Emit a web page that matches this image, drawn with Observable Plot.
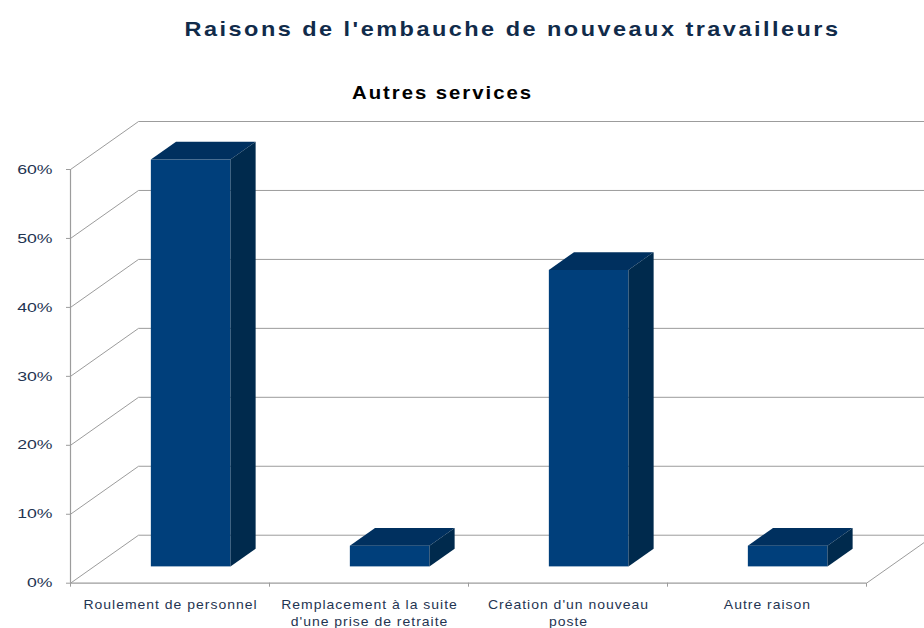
<!DOCTYPE html>
<html>
<head>
<meta charset="utf-8">
<script src="https://cdn.jsdelivr.net/npm/d3@7"></script>
<script src="https://cdn.jsdelivr.net/npm/@observablehq/plot@0.6"></script>
<style>
  body { margin: 0; background: #fff; }
  #chart svg { overflow: hidden; }
</style>
</head>
<body>
<div id="chart"></div>
<script>
// ---- data ----
const title = "Raisons de l'embauche de nouveaux travailleurs";
const subtitle = "Autres services";
const categories = [
  "Roulement de personnel",
  "Remplacement à la suite\nd'une prise de retraite",
  "Création d'un nouveau\nposte",
  "Autre raison"
];
const values = [0.59, 0.03, 0.43, 0.03];
const yTicks = [0, 0.1, 0.2, 0.3, 0.4, 0.5, 0.6];
const boundaries = d3.range(categories.length + 1);

// ---- pseudo-3D projection (depth expressed in data units) ----
const DEPTH_X = 0.342;   // category units shifted at full depth
const DEPTH_Y = 0.0696;  // value units shifted at full depth
const BAR_L = 0.29, BAR_R = 0.69;   // bar footprint within category
const D0 = 0.34, D1 = 0.71;         // bar front / back depth
const nCat = categories.length;

const front = values.map((v, i) => ({
  x1: i + BAR_L + D0 * DEPTH_X, x2: i + BAR_R + D0 * DEPTH_X,
  y1: D0 * DEPTH_Y, y2: v + D0 * DEPTH_Y
}));
const topFace = values.flatMap((v, i) => [D0, D1].map(d => ({
  bar: i, y: v + d * DEPTH_Y,
  x1: i + BAR_L + d * DEPTH_X, x2: i + BAR_R + d * DEPTH_X
})));
const sideFace = values.flatMap((v, i) => [D0, D1].map(d => ({
  bar: i, x: i + BAR_R + d * DEPTH_X,
  y1: d * DEPTH_Y, y2: v + d * DEPTH_Y
})));

const gridColor = "#9c9c9c";
const textColor = "#1f3552";
const fmt = d3.format(".0%");

const chart = Plot.plot({
  width: 924,
  height: 628,
  marginTop: 169,
  marginBottom: 45.3,
  marginLeft: 70,
  marginRight: 58,
  style: { fontFamily: "'Liberation Sans', Arial, sans-serif", background: "#fff" },
  x: { domain: [0, nCat] },
  y: { domain: [0, 0.6] },
  marks: [
    // back wall gridlines
    Plot.link(yTicks, {
      x1: DEPTH_X, x2: nCat + DEPTH_X + 0.5,
      y1: d => d + DEPTH_Y, y2: d => d + DEPTH_Y,
      stroke: gridColor, strokeWidth: 1
    }),
    // side wall diagonals
    Plot.link(yTicks, {
      x1: 0, y1: d => d, x2: DEPTH_X, y2: d => d + DEPTH_Y,
      stroke: gridColor, strokeWidth: 1
    }),
    // floor right edge
    Plot.link([nCat], {
      x1: d => d, y1: 0, x2: d => d + DEPTH_X, y2: DEPTH_Y,
      stroke: gridColor, strokeWidth: 1
    }),
    // floor front edge
    Plot.ruleY([0], { x1: 0, x2: nCat, stroke: gridColor, strokeWidth: 1.2 }),
    // front vertical axis
    Plot.ruleX([0], { y1: 0, y2: 0.6, stroke: gridColor, strokeWidth: 1.2 }),
    Plot.axisY({ ticks: yTicks, tickSize: 4, tickFormat: () => "", stroke: gridColor }),
    Plot.axisX({ ticks: boundaries, tickSize: 4, tickFormat: () => "", stroke: gridColor }),
    // bars
    Plot.rect(front, { x1: "x1", x2: "x2", y1: "y1", y2: "y2", fill: "#003f7b" }),
    Plot.areaX(topFace, { y: "y", x1: "x1", x2: "x2", z: "bar", fill: "#00305f" }),
    Plot.areaY(sideFace, { x: "x", y1: "y1", y2: "y2", z: "bar", fill: "#002a4d" }),
    // y tick labels
    Plot.text(yTicks, {
      y: d => d, text: fmt, frameAnchor: "left",
      textAnchor: "end", dx: -18, fontSize: 13, fill: textColor
    }),
    // category labels
    Plot.text(categories, {
      x: (d, i) => i + 0.5, text: d => d, frameAnchor: "bottom",
      lineAnchor: "top", dy: 14.6, dx: 0.5, lineHeight: 1.3,
      fontSize: 12.5, fill: textColor
    }),
    // title & subtitle
    Plot.text([title], {
      frameAnchor: "top", dx: 44, dy: -148, fontSize: 21,
      fontWeight: "bold", fill: "#112b4a"
    }),
    Plot.text([subtitle], {
      frameAnchor: "top", dx: -26, dy: -84, fontSize: 18.5,
      fontWeight: "bold", fill: "#000"
    })
  ]
});

// the reference text is stretched / tracked: scale glyphs about their anchor and add tracking
const flatCats = new Set(categories.map(c => c.replace(/\n/g, "")));
d3.select(chart).selectAll("text").each(function () {
  const t = this.textContent;
  let s = null, ls = 0;
  if (t === title) { s = 1.12; ls = 2.2; }
  else if (t === subtitle) { s = 1.1; ls = 1.78; }
  else if (/^\d+%$/.test(t)) { s = 1.36; ls = 0; }
  else if (flatCats.has(t)) { s = 1.12; ls = 0.88; }
  if (s == null) return;
  if (ls) this.style.letterSpacing = ls + "px";
  const tr = this.getAttribute("transform");
  if (tr && /translate/.test(tr)) {
    this.setAttribute("transform", tr + ` scale(${s},1)`);
  } else {
    const x = +this.getAttribute("x") || 0;
    this.setAttribute("transform", `translate(${x},0) scale(${s},1) translate(${-x},0)`);
  }
});
document.getElementById("chart").appendChild(chart);
</script>
</body>
</html>
